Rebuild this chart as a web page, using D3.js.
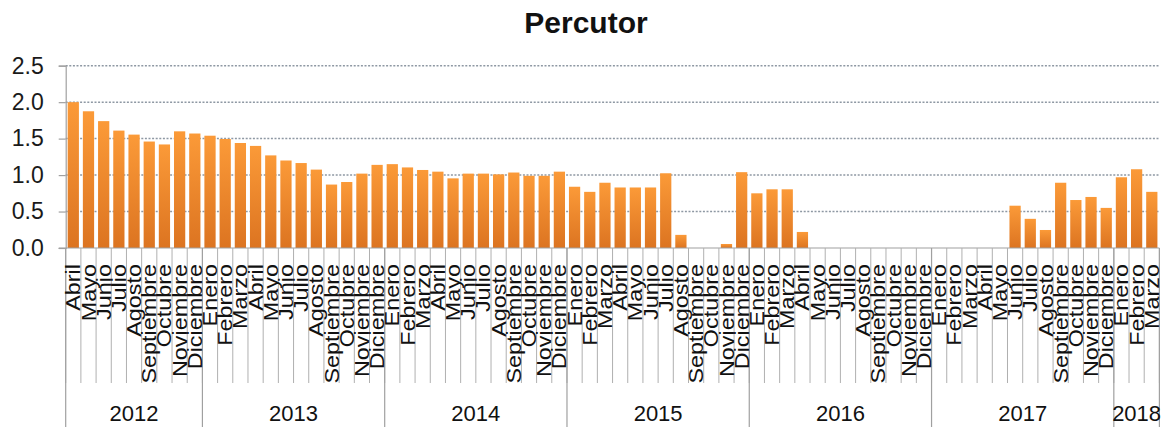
<!DOCTYPE html>
<html><head><meta charset="utf-8">
<script src="https://cdn.jsdelivr.net/npm/d3@7"></script>
<style>
html,body{margin:0;padding:0;background:#fff;}
svg{display:block;font-family:"Liberation Sans",Arial,sans-serif;}
</style></head>
<body><svg id="c" width="1169" height="427"></svg>
<script>
const title = "Percutor";
const months = [
 "Abril","Mayo","Junio","Julio","Agosto","Septiembre","Octubre","Noviembre","Diciembre",
 "Enero","Febrero","Marzo","Abril","Mayo","Junio","Julio","Agosto","Septiembre","Octubre","Noviembre","Diciembre",
 "Enero","Febrero","Marzo","Abril","Mayo","Junio","Julio","Agosto","Septiembre","Octubre","Noviembre","Diciembre",
 "Enero","Febrero","Marzo","Abril","Mayo","Junio","Julio","Agosto","Septiembre","Octubre","Noviembre","Diciembre",
 "Enero","Febrero","Marzo","Abril","Mayo","Junio","Julio","Agosto","Septiembre","Octubre","Noviembre","Diciembre",
 "Enero","Febrero","Marzo","Abril","Mayo","Junio","Julio","Agosto","Septiembre","Octubre","Noviembre","Diciembre",
 "Enero","Febrero","Marzo"
];
const years = ["2012","2013","2014","2015","2016","2017","2018"];
const monthsInYear = [9,12,12,12,12,12,3];
const values = [
 2.00,1.875,1.74,1.61,1.555,1.46,1.42,1.60,1.57,
 1.54,1.495,1.44,1.40,1.27,1.20,1.165,1.075,0.87,0.905,1.02,1.14,
 1.15,1.105,1.07,1.047,0.955,1.02,1.02,1.01,1.035,0.99,0.99,1.047,
 0.84,0.77,0.895,0.83,0.83,0.83,1.025,0.18,null,null,0.055,1.04,
 0.75,0.805,0.805,0.22,null,null,null,null,null,null,null,null,
 null,null,null,null,null,0.58,0.40,0.247,0.895,0.658,0.70,0.55,
 0.97,1.08,0.77
];
const yTicks = [0,0.5,1.0,1.5,2.0,2.5];

const svg = d3.select("#c");
const left = 65.7, right = 1159.4, y0 = 248, yTop = 65.7;
const idx = d3.range(months.length);
const x = d3.scaleBand().domain(idx).range([left,right]).paddingInner(0).paddingOuter(0);
const y = d3.scaleLinear().domain([0,2.5]).range([y0,yTop]);
const bw = x.bandwidth();

const defs = svg.append("defs");
const g = defs.append("linearGradient").attr("id","bar").attr("x1",0).attr("y1",0).attr("x2",0).attr("y2",1);
g.append("stop").attr("offset","0%").attr("stop-color","#fb9a38");
g.append("stop").attr("offset","100%").attr("stop-color","#dc7421");

// title
svg.append("text").attr("x",586).attr("y",33).attr("text-anchor","middle")
  .attr("font-weight","bold").attr("font-size",30).attr("fill","#111").text(title);

// gridlines
svg.append("g").selectAll("line").data(yTicks.filter(d=>d>0)).join("line")
  .attr("x1",left).attr("x2",right).attr("y1",d=>y(d)).attr("y2",d=>y(d))
  .attr("stroke","#8e98a3").attr("stroke-width",1.5).attr("stroke-dasharray","2,1.6");

// y axis
const ya = svg.append("g").attr("transform",`translate(${left},0)`)
  .call(d3.axisLeft(y).tickValues(yTicks).tickFormat(d3.format(".1f")).tickSize(7).tickPadding(15));
ya.select(".domain").attr("stroke","#a0a0a0").attr("stroke-width",1.2);
ya.selectAll(".tick line").attr("stroke","#a0a0a0").attr("stroke-width",1.2);
ya.selectAll(".tick text").attr("font-size",23).attr("fill","#1a1a1a")
  .attr("font-family","'Liberation Sans',Arial,sans-serif");

// bars
svg.append("g").selectAll("rect").data(idx.filter(i=>values[i]!=null)).join("rect")
  .attr("x",i=>x(i)+bw*0.13).attr("width",bw*0.74)
  .attr("y",i=>y(values[i])).attr("height",i=>y0-y(values[i]))
  .attr("fill","url(#bar)");

// baseline
svg.append("line").attr("x1",left-7).attr("x2",right).attr("y1",y0).attr("y2",y0)
  .attr("stroke","#a0a0a0").attr("stroke-width",1.2);

// month separators
const bounds = d3.range(months.length+1).map(i=> i<months.length ? x(i) : right);
svg.append("g").selectAll("line").data(bounds).join("line")
  .attr("x1",d=>d).attr("x2",d=>d).attr("y1",y0).attr("y2",383)
  .attr("stroke","#b0b0b0").attr("stroke-width",1);

// year separators
let acc = 0; const yearStart = [];
monthsInYear.forEach(n=>{ yearStart.push(acc); acc+=n; });
const yearBounds = yearStart.map(s=>x(s)).concat([right]);
svg.append("g").selectAll("line").data(yearBounds).join("line")
  .attr("x1",d=>d).attr("x2",d=>d).attr("y1",y0).attr("y2",427)
  .attr("stroke","#a0a0a0").attr("stroke-width",1.2);

// month labels
svg.append("g").selectAll("text").data(idx).join("text")
  .attr("transform",i=>`translate(${x(i)+bw/2},264) rotate(-90) scale(1.2,1)`)
  .attr("text-anchor","end").attr("dy","0.36em")
  .attr("font-size",19.5).attr("fill","#111").text(i=>months[i]);

// year labels
svg.append("g").selectAll("text").data(years).join("text")
  .attr("x",(d,k)=> (x(yearStart[k]) + (k+1<years.length? x(yearStart[k+1]) : right))/2)
  .attr("y",421).attr("text-anchor","middle").attr("font-size",22).attr("fill","#111")
  .text(d=>d);
</script></body></html>
